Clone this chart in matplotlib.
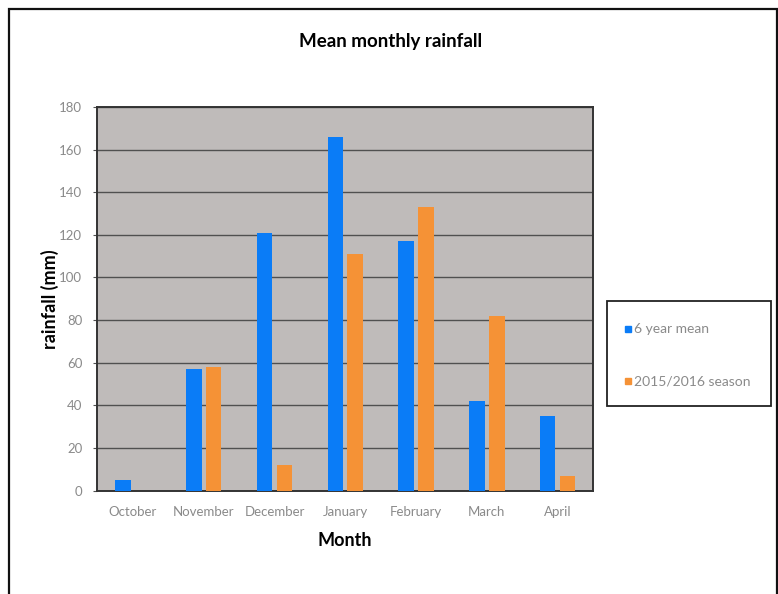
import matplotlib.pyplot as plt
import matplotlib.patches as mpatches
import numpy as np

plt.rcParams['font.family'] = ['Lato', 'DejaVu Sans']

months = ['October', 'November', 'December', 'January', 'February', 'March', 'April']
six_year_mean = [5, 57, 121, 166, 117, 42, 35]
season_2015_16 = [0, 58, 12, 111, 133, 82, 7]
series_labels = ['6 year mean', '2015/2016 season']
colors = ['#0a7cf7', '#f59236']

fig = plt.figure(figsize=(7.78, 5.94), dpi=100)
W, H = 778, 594

# outer chart border
fig.patches.append(mpatches.Rectangle((9 / W, -0.05), (777 - 9) / W, 1.05 - 9 / H,
                                      transform=fig.transFigure, fill=False,
                                      edgecolor='#111111', linewidth=1.6))

ax = fig.add_axes([97.5 / W, 1 - 490.5 / H, (593 - 97.5) / W, (490.5 - 107) / H])
ax.set_facecolor('#bfbbba')

x = np.arange(len(months))
w = 0.22
ax.bar(x - 0.14, six_year_mean, w, color=colors[0], zorder=3)
ax.bar(x + 0.14, season_2015_16, w, color=colors[1], zorder=3)

ax.set_xlim(-0.5, len(months) - 0.5)
ax.set_ylim(0, 180)
ax.set_yticks(range(0, 181, 20))
ax.set_xticks(x)
ax.set_xticklabels(months)
ax.yaxis.grid(True, color='#505050', linewidth=1.0, zorder=1)
ax.set_axisbelow(True)
for s in ax.spines.values():
    s.set_color('#333333')
    s.set_linewidth(1.4)
ax.tick_params(axis='y', length=3, color='#505050', labelsize=9.5, labelcolor='#8a8a8a', pad=8)
ax.tick_params(axis='x', length=0, labelsize=9.5, labelcolor='#8a8a8a', pad=11)

ax.set_xlabel('Month', fontsize=13, fontweight='bold', labelpad=10)
ax.set_ylabel('rainfall (mm)', fontsize=13, fontweight='bold', labelpad=0)

fig.text(391 / W, 1 - 42 / H, 'Mean monthly rainfall', ha='center', va='center',
         fontsize=13.5, fontweight='bold')

# legend box
fig.patches.append(mpatches.Rectangle((607 / W, 1 - 406 / H), (771 - 607) / W, (406 - 301) / H,
                                      transform=fig.transFigure, fill=False,
                                      edgecolor='#222222', linewidth=1.3))
for lab, col, yy in zip(series_labels, colors, [329, 381]):
    fig.patches.append(mpatches.Rectangle((625 / W, 1 - (yy + 3) / H), 6 / W, 6 / H,
                                          transform=fig.transFigure, color=col))
    fig.text(634 / W, 1 - yy / H, lab, ha='left', va='center', fontsize=10, color='#8a8a8a')

fig.savefig('out.png', dpi=100)
